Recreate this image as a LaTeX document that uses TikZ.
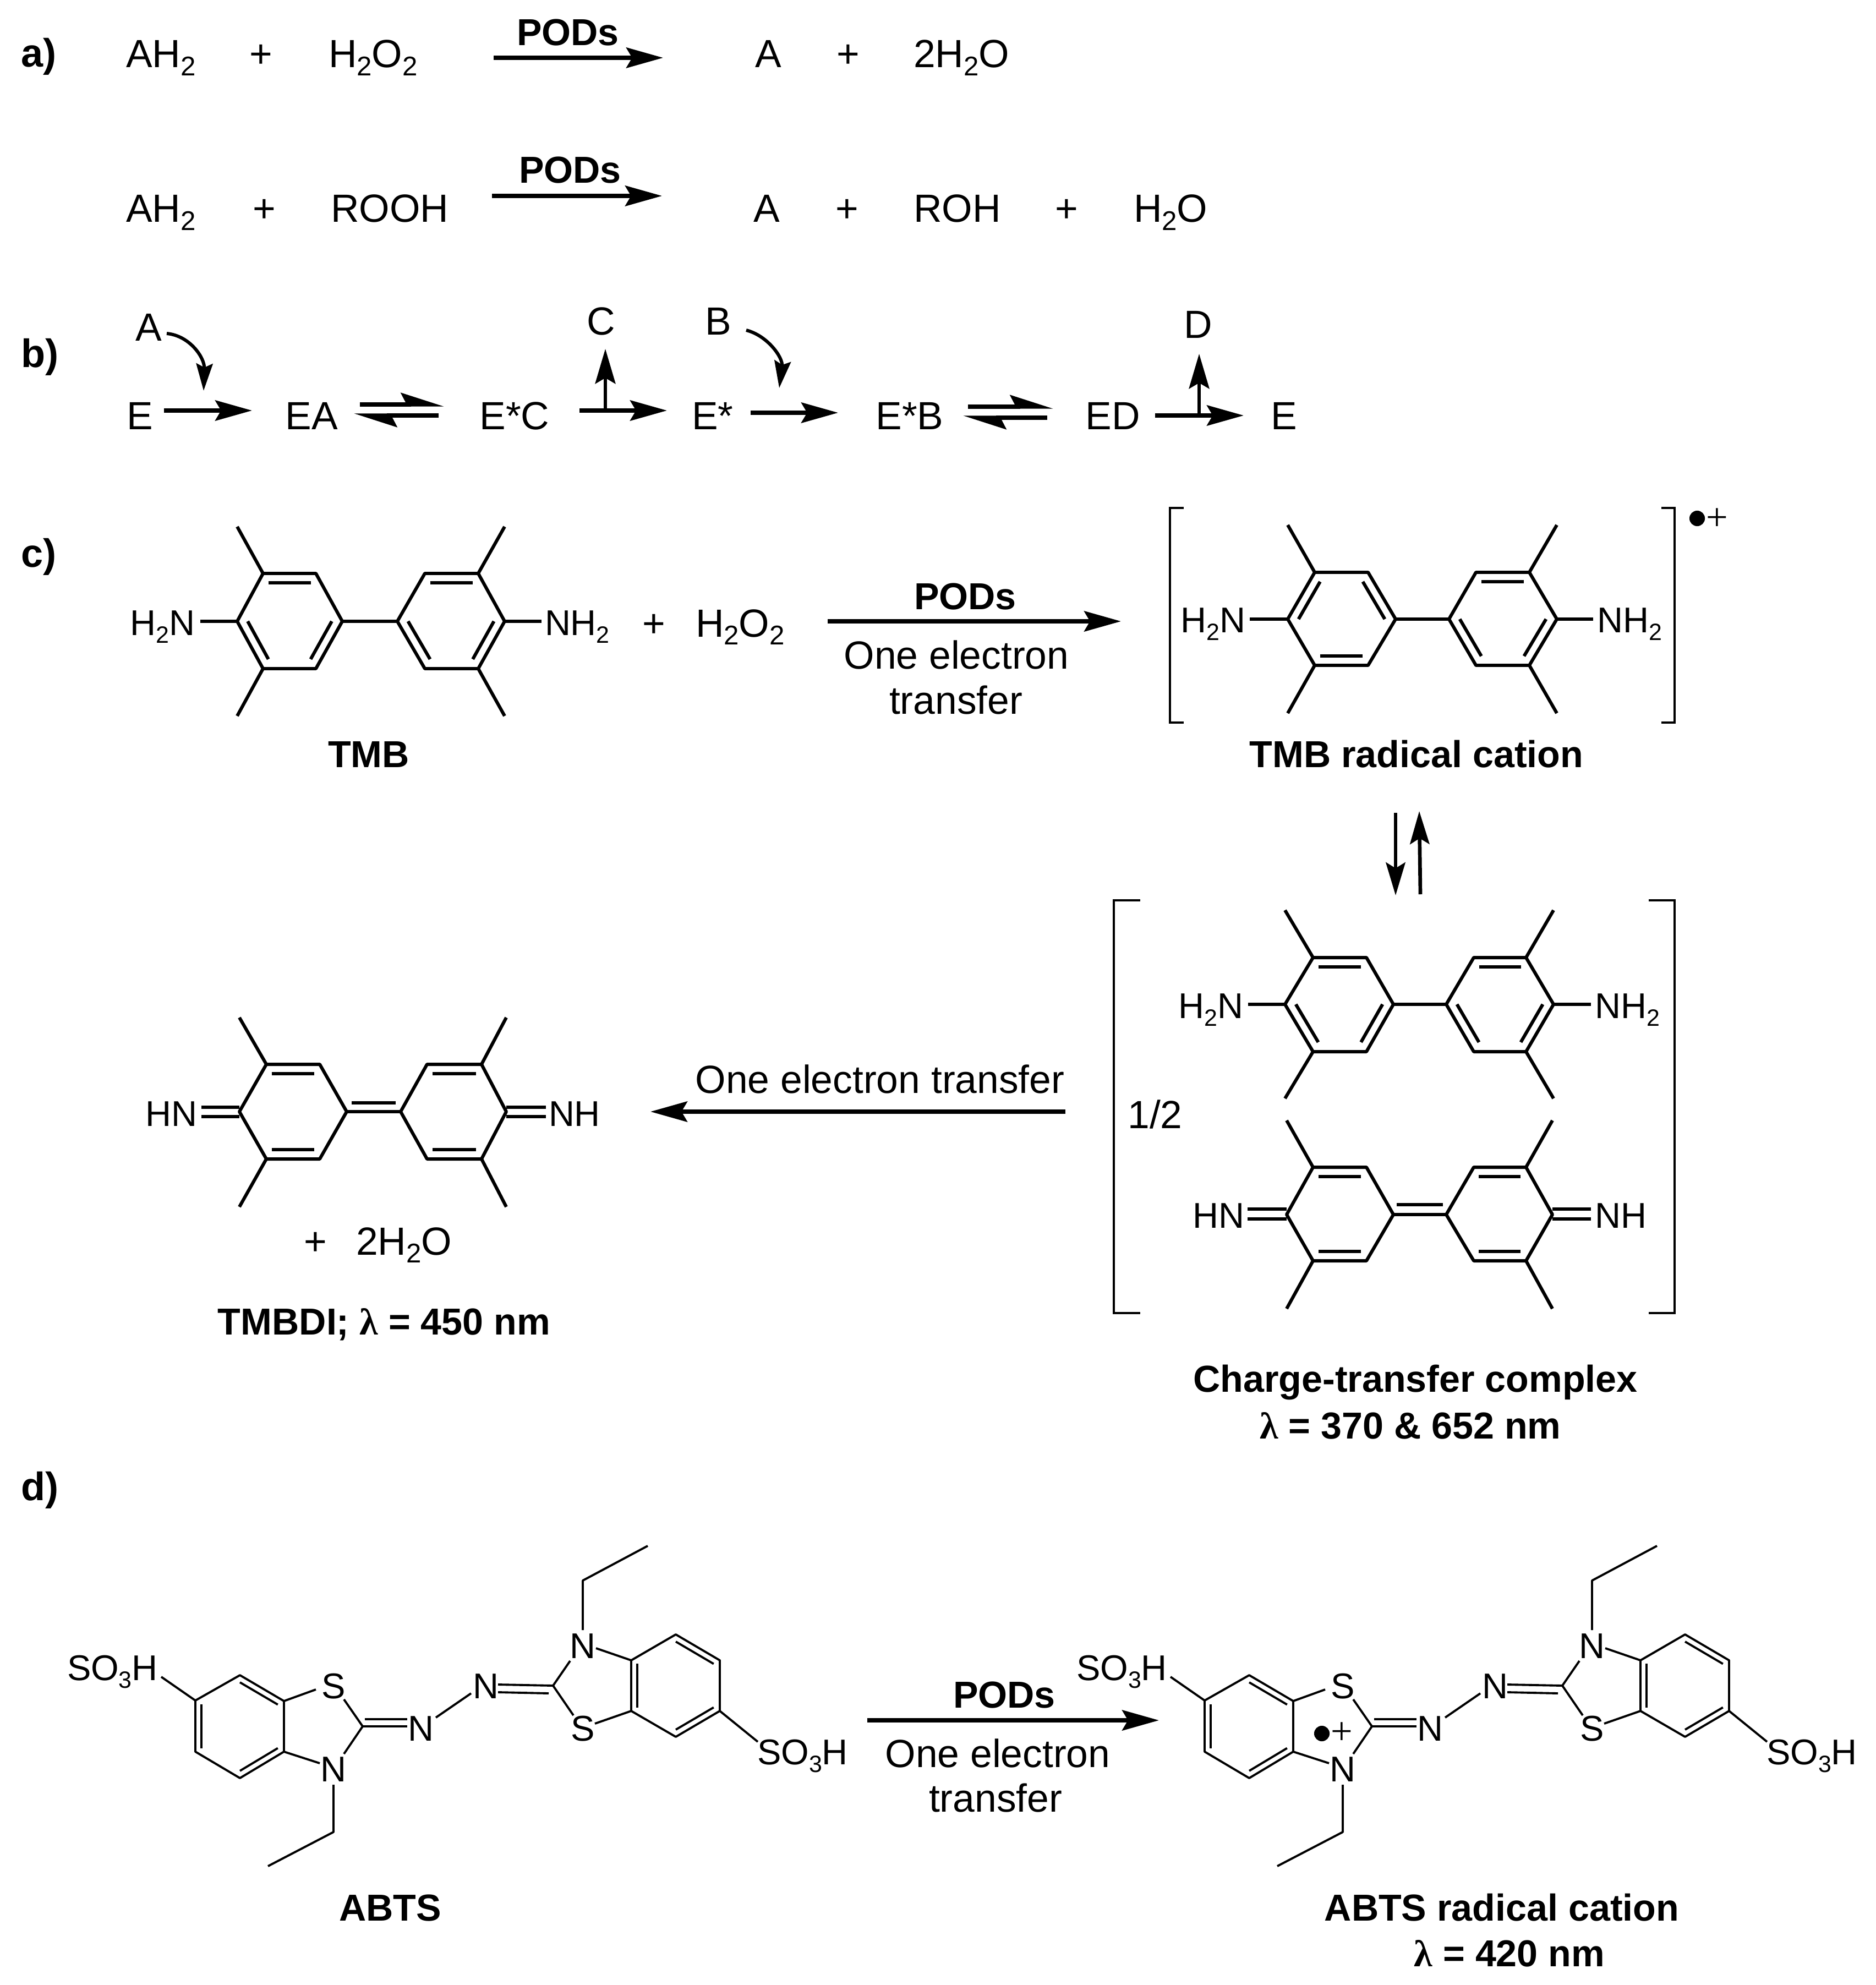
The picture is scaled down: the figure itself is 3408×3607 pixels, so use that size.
\documentclass[tikz,border=0pt]{standalone}
\usepackage{fontspec}
\setmainfont{Liberation Sans}
\newfontfamily\serifgr{Liberation Serif}
\usetikzlibrary{arrows.meta,calc}
\newcommand\lsub[1]{\raisebox{-4pt}{\fontsize{14}{15}\selectfont #1}}
\newcommand\csub[1]{\raisebox{-4pt}{\fontsize{12.2}{13}\selectfont #1}}
\newcommand\lam{{\serifgr\symbol{"03BB}}}
\newcommand\tx[5][lab]{\node[#1,anchor=#3] (#2) at (#4) {#5};}
\newcommand\arw[4][rxn]{\coordinate (#2-s) at (#3); \coordinate (#2-e) at (#4); \draw[#1] (#2-s) -- (#2-e);}
\newcommand\dbl[4][.2]{\draw[bondT] ($(#2)!#1!(#4)$) -- ($(#3)!#1!(#4)$);}
\newcommand\dblA[3]{\draw[bondA] ($(#1)!.14!(#3)$) -- ($(#2)!.14!(#3)$);}
\newcommand\RingX[8]{\def\rxa{#1}\def\rxb{#2}\def\rxc{#3}\def\rxd{#4}\def\rxe{#5}\def\rxf{#6}\def\rxg{#7}\def\rxh{#8}}
\newcommand\RingY[5]{%
  \coordinate (L1) at (\rxa,#1); \coordinate (L2) at (\rxb,#2); \coordinate (L3) at (\rxc,#2);
  \coordinate (L4) at (\rxd,#1); \coordinate (L5) at (\rxc,#3); \coordinate (L6) at (\rxb,#3);
  \coordinate (R1) at (\rxe,#1); \coordinate (R2) at (\rxf,#2); \coordinate (R3) at (\rxg,#2);
  \coordinate (R4) at (\rxh,#1); \coordinate (R5) at (\rxg,#3); \coordinate (R6) at (\rxf,#3);
  \coordinate (LC) at ($(L1)!.5!(L4)$); \coordinate (RC) at ($(R1)!.5!(R4)$);
  \draw[bondT] (L1)--(L2)--(L3)--(L4)--(L5)--(L6)--cycle;
  \draw[bondT] (R1)--(R2)--(R3)--(R4)--(R5)--(R6)--cycle;
  \draw[bondT] (L2)--(\rxa,#4); \draw[bondT] (R3)--(\rxh,#4);
  \draw[bondT] (L6)--(\rxa,#5); \draw[bondT] (R5)--(\rxh,#5);
}
\newcommand\ABTS[1]{%
  \coordinate (A1) at (355,3090); \coordinate (A2) at (436,3044); \coordinate (A3) at (516,3091);
  \coordinate (A4) at (516,3183); \coordinate (A5) at (436,3231); \coordinate (A6) at (355,3183);
  \coordinate (AC) at (436,3137);
  \coordinate (B1) at (1147,3017); \coordinate (B2) at (1228,2970); \coordinate (B3) at (1308,3017);
  \coordinate (B4) at (1308,3109); \coordinate (B5) at (1228,3156); \coordinate (B6) at (1147,3109);
  \coordinate (BC) at (1228,3063);
  \coordinate (C2) at (659,3137); \coordinate (C3) at (1005,3063);
  \draw[bondA] (A1)--(A2)--(A3)--(A4)--(A5)--(A6)--cycle;
  \draw[bondA] (B1)--(B2)--(B3)--(B4)--(B5)--(B6)--cycle;
  \dblA{A2}{A3}{AC} \dblA{A6}{A1}{AC} \dblA{A4}{A5}{AC}
  \dblA{B6}{B1}{BC} \dblA{B2}{B3}{BC} \dblA{B4}{B5}{BC}
  \tx[chem]{#1so}{base west}{122,3053}{SO\csub{3}H}
  \tx[chem]{#1sob}{base west}{1376,3206}{SO\csub{3}H}
  \tx[chem]{#1s}{base}{606,3086}{S}
  \tx[chem]{#1n}{base}{606,3237}{N}
  \tx[chem]{#1na}{base}{765,3163}{N}
  \tx[chem]{#1nb}{base}{883,3086}{N}
  \tx[chem]{#1nc}{base}{1059,3013}{N}
  \tx[chem]{#1sc}{base}{1059,3163}{S}
  \draw[bondA] (293,3047)--(A1);
  \draw[bondA] (B4)--(1377,3165);
  \draw[bondA] (A3)--(574,3070);
  \draw[bondA] (625,3088)--(C2)--(625,3187);
  \draw[bondA] (581,3204)--(A4);
  \draw[bondA] (606,3243)--(606,3329)--(487,3391);
  \draw[bondA] (663,3124)--(740,3124);
  \draw[bondA] (C2)--(740,3137);
  \draw[bondA] (792,3121)--(856,3077);
  \draw[bondA] (905,3061)--(C3);
  \draw[bondA] (905,3075)--(997,3077);
  \draw[bondA] (1036,3018)--(C3)--(1042,3117);
  \draw[bondA] (1083,2995)--(B1);
  \draw[bondA] (1081,3132)--(B6);
  \draw[bondA] (1059,2962)--(1059,2872)--(1177,2809);
}
\tikzset{
  lab/.style={inner sep=0pt,outer sep=0pt,font=\fontsize{20.3}{24}\selectfont},
  chem/.style={inner sep=0pt,outer sep=0pt,font=\fontsize{18.5}{22}\selectfont},
  head/.style={inner sep=0pt,outer sep=0pt,font=\fontsize{20.5}{24}\selectfont\bfseries},
  bold/.style={inner sep=0pt,outer sep=0pt,font=\fontsize{19.4}{23}\selectfont\bfseries},
  plusS/.style={inner sep=0pt,outer sep=0pt,font=\fontsize{20}{24}\selectfont\serifgr},
  rdot/.style={circle,fill=black,inner sep=0pt,outer sep=0pt,minimum size=8pt},
  bondT/.style={line width=1.7pt,line join=round},
  bondA/.style={line width=1.1pt,line join=round},
  brk/.style={line width=0.9pt},
  rxn/.style={line width=2.2pt,-{Stealth[length=19pt,width=10.5pt,inset=3pt]}},
  rxnv/.style={line width=1.9pt,-{Stealth[length=17pt,width=10pt,inset=3pt]}},
  rxnup/.style={line width=1.6pt,-{Stealth[length=18pt,width=10.5pt,inset=3pt]}},
  eqm/.style={line width=2.1pt,-{Stealth[harpoon,length=19pt,width=12pt,inset=3pt]}},
  curv/.style={line width=1.7pt,-{Stealth[length=14pt,width=8.5pt,inset=2pt]}},
}
\begin{document}
\begin{tikzpicture}[x=0.01cm,y=-0.01cm]
\useasboundingbox (0,0) rectangle (3408,3607);
\fill[white] (0,0) rectangle (3408,3607);
% a)
\tx[head]{la}{base west}{38,122}{a)}
\tx{a1}{base west}{229,123}{AH\lsub{2}}
\tx{a2}{base}{474,123}{+}
\tx{a3}{base west}{597,123}{H\lsub{2}O\lsub{2}}
\arw{ar1}{897,105}{1205,105}
\tx[bold]{a4}{base}{1032,83}{PODs}
\tx{a5}{base}{1396,123}{A}
\tx{a6}{base}{1541,123}{+}
\tx{a7}{base west}{1660,123}{2H\lsub{2}O}
\tx{b1}{base west}{229,404}{AH\lsub{2}}
\tx{b2}{base}{480,404}{+}
\tx{b3}{base west}{601,404}{ROOH}
\arw{ar2}{894,356}{1203,356}
\tx[bold]{b4}{base}{1036,333}{PODs}
\tx{b5}{base}{1393,404}{A}
\tx{b6}{base}{1539,404}{+}
\tx{b7}{base west}{1660,404}{ROH}
\tx{b8}{base}{1938,404}{+}
\tx{b9}{base west}{2060,404}{H\lsub{2}O}
% b)
\tx[head]{lb}{base west}{38,668}{b)}
\tx{e1}{base}{254,781}{E}
\tx{e2}{base}{566,781}{EA}
\tx{e3}{base}{935,781}{E*C}
\tx{e4}{base}{1295,781}{E*}
\tx{e5}{base}{1653,781}{E*B}
\tx{e6}{base}{2022,781}{ED}
\tx{e7}{base}{2333,781}{E}
\tx{sa}{base}{270,620}{A}
\tx{sc}{base}{1092,609}{C}
\tx{sb}{base}{1305,609}{B}
\tx{sd}{base}{2177,615}{D}
\arw{r1}{298,746}{458,746}
\arw[eqm]{r2}{654,735}{807,735}
\arw[eqm]{r3}{797,755}{643,755}
\arw{r4}{1053,746}{1212,746}
\arw[rxnup]{r5}{1100,746}{1100,634}
\arw{r6}{1364,750}{1523,750}
\arw[eqm]{r7}{1759,739}{1914,739}
\arw[eqm]{r8}{1903,759}{1750,759}
\arw{r9}{2099,755}{2260,755}
\arw[rxnup]{r10}{2179,755}{2179,643}
\coordinate (ca1) at (303,606); \coordinate (ca2) at (370,710);
\draw[curv] (ca1) .. controls (345,610) and (372,650) .. (ca2);
\coordinate (cb1) at (1356,600); \coordinate (cb2) at (1416,705);
\draw[curv] (cb1) .. controls (1395,610) and (1423,650) .. (cb2);
% c) TMB
\tx[head]{lc}{base west}{38,1031}{c)}
\RingX{431}{478}{574}{622}{722}{772}{869}{917}
\RingY{1129}{1042}{1215}{957}{1301}
\dbl{L2}{L3}{LC} \dbl{L1}{L6}{LC} \dbl{L4}{L5}{LC}
\dbl{R2}{R3}{RC} \dbl{R1}{R6}{RC} \dbl{R4}{R5}{RC}
\draw[bondT] (L4)--(R1);
\draw[bondT] (L1)--(364,1129);
\draw[bondT] (R4)--(984,1129);
\tx[chem]{t1}{base east}{354,1154}{H\csub{2}N}
\tx[chem]{t2}{base west}{990,1154}{NH\csub{2}}
\tx{t3}{base}{1188,1157}{+}
\tx{t4}{base west}{1264,1157}{H\lsub{2}O\lsub{2}}
\arw{ar3}{1504,1129}{2037,1129}
\tx[bold]{t5}{base}{1754,1107}{PODs}
\tx{t6}{base}{1738,1215}{One electron}
\tx{t7}{base}{1737,1297}{transfer}
\tx[bold]{t8}{base}{670,1394}{TMB}
% radical cation
\RingX{2340}{2389}{2486}{2536}{2633}{2682}{2779}{2829}
\RingY{1125}{1040}{1209}{954}{1296}
\dbl{L1}{L2}{LC} \dbl{L3}{L4}{LC} \dbl{L5}{L6}{LC}
\dbl{R2}{R3}{RC} \dbl{R1}{R6}{RC} \dbl{R4}{R5}{RC}
\draw[bondT] (L4)--(R1);
\draw[bondT] (L1)--(2271,1125);
\draw[bondT] (R4)--(2895,1125);
\tx[chem]{u1}{base east}{2263,1149}{H\csub{2}N}
\tx[chem]{u2}{base west}{2902,1149}{NH\csub{2}}
\draw[brk] (2151,923)--(2126,923)--(2126,1313)--(2151,1313);
\draw[brk] (3019,923)--(3043,923)--(3043,1313)--(3019,1313);
\node[rdot] (u3) at (3084,942) {};
\tx[plusS]{u4}{center}{3120,944}{+}
\tx[bold]{u5}{base}{2574,1394}{TMB radical cation}
\arw[rxnv]{ar4}{2536,1477}{2536,1627}
\arw[rxnv]{ar5}{2581,1625}{2579,1474}
% charge-transfer complex
\draw[brk] (2072,1636)--(2024,1636)--(2024,2386)--(2072,2386);
\draw[brk] (2996,1636)--(3043,1636)--(3043,2386)--(2996,2386);
\tx{v0}{base}{2099,2050}{1/2}
\RingX{2335}{2386}{2483}{2532}{2628}{2678}{2773}{2823}
\RingY{1825}{1740}{1911}{1654}{1996}
\dbl{L2}{L3}{LC} \dbl{L1}{L6}{LC} \dbl{L4}{L5}{LC}
\dbl{R2}{R3}{RC} \dbl{R1}{R6}{RC} \dbl{R4}{R5}{RC}
\draw[bondT] (L4)--(R1);
\draw[bondT] (L1)--(2268,1825);
\draw[bondT] (R4)--(2891,1825);
\tx[chem]{v1}{base east}{2259,1850}{H\csub{2}N}
\tx[chem]{v2}{base west}{2898,1850}{NH\csub{2}}
\RingX{2338}{2386}{2483}{2532}{2628}{2678}{2773}{2821}
\RingY{2207}{2121}{2291}{2036}{2378}
\dbl{L2}{L3}{LC} \dbl{L5}{L6}{LC} \dbl{R2}{R3}{RC} \dbl{R5}{R6}{RC}
\draw[bondT] (L4)--(R1);
\draw[bondT] (2538,2189)--(2622,2189);
\draw[bondT] (2267,2197)--(2338,2197);
\draw[bondT] (2267,2215)--(2338,2215);
\draw[bondT] (2821,2197)--(2891,2197);
\draw[bondT] (2821,2215)--(2891,2215);
\tx[chem]{v3}{base east}{2261,2231}{HN}
\tx[chem]{v4}{base west}{2898,2231}{NH}
\tx[bold]{v5}{base}{2572,2529}{Charge-transfer complex}
\tx[bold]{v6}{base}{2563,2614}{\lam{} = 370 \& 652 nm}
% TMBDI
\RingX{435}{484}{581}{630}{728}{776}{875}{920}
\RingY{2020}{1934}{2106}{1849}{2193}
\dbl{L2}{L3}{LC} \dbl{L5}{L6}{LC} \dbl{R2}{R3}{RC} \dbl{R5}{R6}{RC}
\draw[bondT] (L4)--(R1);
\draw[bondT] (639,2004)--(719,2004);
\draw[bondT] (366,2012)--(435,2012);
\draw[bondT] (366,2029)--(435,2029);
\draw[bondT] (920,2012)--(992,2012);
\draw[bondT] (920,2029)--(992,2029);
\tx[chem]{w1}{base east}{358,2046}{HN}
\tx[chem]{w2}{base west}{997,2046}{NH}
\arw{ar6}{1936,2020}{1182,2020}
\tx{w3}{base}{1599,1986}{One electron transfer}
\tx{w4}{base}{573,2280}{+}
\tx{w5}{base west}{647,2280}{2H\lsub{2}O}
\tx[bold]{w6}{base}{698,2425}{TMBDI; \lam{} = 450 nm}
% d) ABTS
\tx[head]{ld}{base west}{38,2726}{d)}
\ABTS{p}
\tx[bold]{x1}{base}{709,3490}{ABTS}
\arw{ar7}{1576,3126}{2106,3126}
\tx[bold]{x2}{base}{1825,3103}{PODs}
\tx{x3}{base}{1813,3211}{One electron}
\tx{x4}{base}{1809,3292}{transfer}
\begin{scope}[shift={(1834,0)}]
\ABTS{q}
\end{scope}
\node[rdot] (x5) at (2402,3150) {};
\tx[plusS]{x6}{center}{2438,3150}{+}
\tx[bold]{x7}{base}{2729,3490}{ABTS radical cation}
\tx[bold]{x8}{base}{2743,3573}{\lam{} = 420 nm}
\end{tikzpicture}
\end{document}
